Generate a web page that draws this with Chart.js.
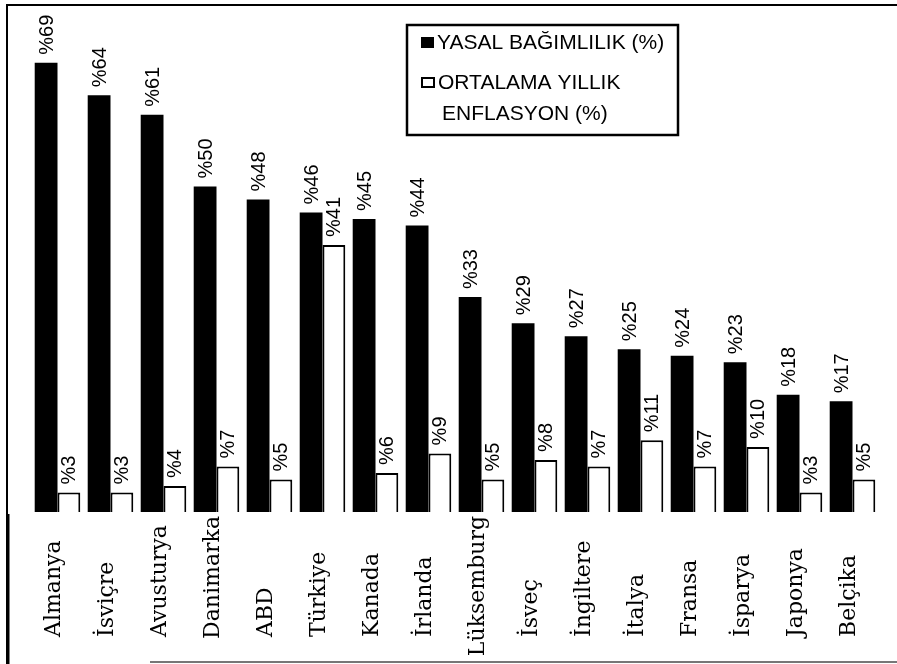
<!DOCTYPE html>
<html>
<head>
<meta charset="utf-8">
<script src="https://cdn.jsdelivr.net/npm/chart.js@4.4.1/dist/chart.umd.min.js"></script>
<style>
  html, body { margin: 0; padding: 0; background: #fff; }
  #wrap { width: 897px; height: 664px; position: relative; }
</style>
</head>
<body>
<div id="wrap"><canvas id="chart"></canvas></div>
<script>
const countries = ['Almanya', 'İsviçre', 'Avusturya', 'Danimarka', 'ABD', 'Türkiye', 'Kanada', 'İrlanda',
  'Lüksemburg', 'İsveç', 'İngiltere', 'İtalya', 'Fransa', 'İsparya', 'Japonya', 'Belçika'];
const dependency = [69, 64, 61, 50, 48, 46, 45, 44, 33, 29, 27, 25, 24, 23, 18, 17];
const inflation = [3, 3, 4, 7, 5, 41, 6, 9, 5, 8, 7, 11, 7, 10, 3, 5];
const seriesNames = ['YASAL BAĞIMLILIK (%)', 'ORTALAMA YILLIK\nENFLASYON (%)'];

const SANS = '"Liberation Sans", Arial, sans-serif';
const SERIF = '"DejaVu Serif", serif';

// value labels on top of the bars, rotated
const valueLabels = {
  id: 'valueLabels',
  afterDatasetsDraw(chart) {
    const ctx = chart.ctx;
    ctx.save();
    ctx.fillStyle = '#000';
    ctx.font = '20px ' + SANS;
    ctx.textAlign = 'left';
    ctx.textBaseline = 'middle';
    chart.data.datasets.forEach((ds, i) => {
      chart.getDatasetMeta(i).data.forEach((bar, j) => {
        ctx.save();
        ctx.translate(bar.x + 1, bar.y - 8);
        ctx.rotate(-Math.PI / 2);
        ctx.fillText('%' + ds.data[j], 0, 0);
        ctx.restore();
      });
    });
    ctx.restore();
  }
};

// category names under the bars, reading upwards
const categoryLabels = {
  id: 'categoryLabels',
  afterDraw(chart) {
    const ctx = chart.ctx;
    const xs = chart.scales.x;
    ctx.save();
    ctx.fillStyle = '#000';
    ctx.font = '22px ' + SERIF;
    ctx.textAlign = 'left';
    ctx.textBaseline = 'middle';
    chart.data.labels.forEach((lab, i) => {
      const w = ctx.measureText(lab).width;
      const y0 = Math.max(637, 516 + w);
      ctx.save();
      ctx.translate(xs.getPixelForValue(i) - 3, y0);
      ctx.rotate(-Math.PI / 2);
      ctx.fillText(lab, 0, 0);
      ctx.restore();
    });
    ctx.restore();
  }
};

// boxed legend and the page frame
const boxLegend = {
  id: 'boxLegend',
  afterDraw(chart) {
    const ctx = chart.ctx;
    ctx.save();
    ctx.strokeStyle = '#000';
    // frame
    ctx.lineWidth = 2;
    ctx.beginPath();
    ctx.moveTo(7, 664); ctx.lineTo(7, 5); ctx.lineTo(897, 5);
    ctx.stroke();
    ctx.lineWidth = 3;
    ctx.beginPath();
    ctx.moveTo(8, 514); ctx.lineTo(8, 664);
    ctx.stroke();
    ctx.strokeStyle = '#777';
    ctx.lineWidth = 2;
    ctx.beginPath();
    ctx.moveTo(150, 662); ctx.lineTo(897, 662);
    ctx.stroke();

    // legend box
    ctx.strokeStyle = '#000';
    ctx.lineWidth = 2.5;
    ctx.strokeRect(407, 25, 271, 110);
    ctx.font = '21px ' + SANS;
    ctx.fillStyle = '#000';
    ctx.textBaseline = 'middle';
    ctx.textAlign = 'left';
    const ds = chart.data.datasets;
    // first item
    ctx.fillStyle = ds[0].backgroundColor;
    ctx.fillRect(421, 37, 13, 11);
    ctx.fillStyle = '#000';
    ctx.fillText(ds[0].label, 437, 43);
    // second item
    ctx.fillStyle = ds[1].backgroundColor;
    ctx.fillRect(421, 77, 14, 11);
    ctx.lineWidth = 2;
    ctx.strokeRect(422, 78, 12, 9);
    ctx.fillStyle = '#000';
    const lines = ds[1].label.split('\n');
    ctx.fillText(lines[0], 438, 83);
    ctx.fillText(lines[1], 442, 114);
    ctx.restore();
  }
};

new Chart(document.getElementById('chart'), {
  type: 'bar',
  data: {
    labels: countries,
    datasets: [
      {
        label: seriesNames[0],
        data: dependency,
        backgroundColor: '#000',
        borderWidth: 0
      },
      {
        label: seriesNames[1],
        data: inflation,
        backgroundColor: '#fff',
        borderColor: '#000',
        borderWidth: 2
      }
    ]
  },
  options: {
    responsive: true,
    maintainAspectRatio: false,
    animation: false,
    layout: { padding: { left: 31, right: 18, top: 8, bottom: 152 } },
    datasets: { bar: { categoryPercentage: 0.86, barPercentage: 1.0 } },
    plugins: {
      legend: { display: false },
      tooltip: { enabled: false }
    },
    scales: {
      x: {
        display: false,
        grid: { display: false }
      },
      y: {
        display: false,
        min: 0,
        max: 77.4,
        grid: { display: false }
      }
    }
  },
  plugins: [valueLabels, categoryLabels, boxLegend]
});
</script>
</body>
</html>
